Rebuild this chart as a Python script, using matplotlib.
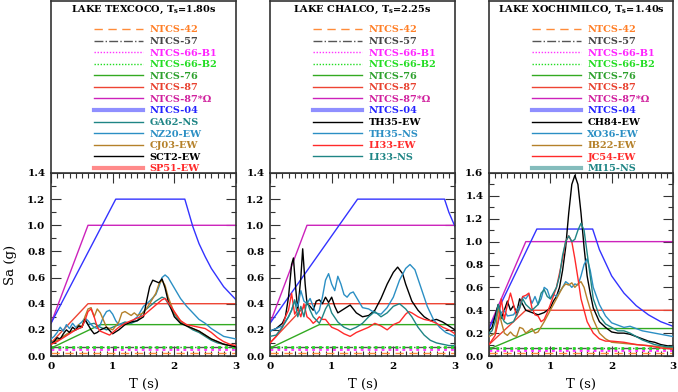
import matplotlib
matplotlib.use("Agg")
import matplotlib.pyplot as plt
from matplotlib.ticker import MultipleLocator

plt.rcParams['font.family'] = ['DejaVu Serif']
plt.rcParams['font.weight'] = 'bold'
plt.rcParams['mathtext.default'] = 'regular'

# ---------------- code spectra (common) ----------------
T_flat = [0, 3]
sa_42 = [0.025, 0.025]
sa_57 = [0.07, 0.07]
sa_66b1 = [0.055, 0.055]
sa_66b2 = [0.072, 0.072]
T_76 = [0, 0.8, 3]
sa_76 = [0.06, 0.24, 0.24]
T_87 = [0, 0.6, 3]
sa_87 = [0.10, 0.40, 0.40]
sa_87w = [0.25, 1.00, 1.00]

# NTCS-04 per site
T_04_tex = [0, 1.05, 2.17, 2.3, 2.4, 2.5, 2.6, 2.7, 2.8, 2.9, 3.0]
sa_04_tex = [0.25, 1.2, 1.2, 0.99, 0.86, 0.76, 0.67, 0.60, 0.53, 0.48, 0.43]
T_04_cha = [0, 1.42, 2.83, 2.9, 3.0]
sa_04_cha = [0.25, 1.2, 1.2, 1.10, 0.99]
T_04_xoc = [0, 0.78, 1.69, 1.8, 2.0, 2.2, 2.4, 2.6, 2.8, 3.0]
sa_04_xoc = [0.24, 1.11, 1.11, 0.93, 0.70, 0.55, 0.44, 0.36, 0.30, 0.26]

# ---------------- records: Lake Texcoco ----------------
T_ga62 = [0, 0.1, 0.2, 0.3, 0.4, 0.5, 0.55, 0.6, 0.7, 0.8, 0.9, 1.0, 1.1, 1.2, 1.3, 1.4, 1.5, 1.6, 1.7, 1.8,
          1.85, 1.9, 2.0, 2.1, 2.2, 2.3, 2.4, 2.5, 2.6, 2.7, 2.8, 2.9, 3.0]
sa_ga62 = [0.10, 0.12, 0.15, 0.18, 0.20, 0.22, 0.28, 0.24, 0.25, 0.22, 0.20, 0.22, 0.24, 0.26, 0.25, 0.27, 0.34,
           0.38, 0.42, 0.45, 0.44, 0.40, 0.32, 0.26, 0.23, 0.20, 0.18, 0.15, 0.12, 0.10, 0.09, 0.08, 0.07]
T_nz20 = [0, 0.05, 0.1, 0.15, 0.2, 0.25, 0.3, 0.35, 0.4, 0.45, 0.5, 0.55, 0.6, 0.65, 0.7, 0.75, 0.8, 0.85, 0.9,
          0.95, 1.0, 1.05, 1.1, 1.2, 1.3, 1.4, 1.5, 1.6, 1.7, 1.75, 1.8, 1.85, 1.9, 2.0, 2.1, 2.2, 2.3, 2.4, 2.5,
          2.6, 2.7, 2.8, 2.9, 3.0]
sa_nz20 = [0.13, 0.15, 0.18, 0.22, 0.19, 0.24, 0.21, 0.25, 0.22, 0.24, 0.26, 0.29, 0.27, 0.24, 0.22, 0.21, 0.24,
           0.30, 0.34, 0.35, 0.32, 0.27, 0.24, 0.25, 0.26, 0.30, 0.38, 0.42, 0.47, 0.53, 0.60, 0.62, 0.60, 0.52,
           0.44, 0.38, 0.33, 0.28, 0.25, 0.21, 0.18, 0.15, 0.14, 0.13]
T_cj03 = [0, 0.1, 0.2, 0.3, 0.4, 0.45, 0.5, 0.55, 0.6, 0.65, 0.7, 0.75, 0.8, 0.9, 1.0, 1.1, 1.15, 1.2, 1.3, 1.35,
          1.4, 1.5, 1.6, 1.7, 1.75, 1.8, 1.85, 1.9, 2.0, 2.1, 2.2, 2.3, 2.4, 2.5, 2.6, 2.7, 2.8, 2.9, 3.0]
sa_cj03 = [0.09, 0.12, 0.15, 0.18, 0.20, 0.24, 0.22, 0.30, 0.36, 0.37, 0.30, 0.36, 0.33, 0.22, 0.20, 0.26, 0.33,
           0.34, 0.31, 0.33, 0.31, 0.33, 0.40, 0.48, 0.55, 0.58, 0.54, 0.45, 0.33, 0.27, 0.23, 0.21, 0.19, 0.16,
           0.13, 0.11, 0.09, 0.08, 0.07]
T_sct2 = [0, 0.05, 0.1, 0.15, 0.2, 0.25, 0.3, 0.35, 0.4, 0.45, 0.5, 0.55, 0.6, 0.65, 0.7, 0.75, 0.8, 0.9, 1.0, 1.1,
          1.2, 1.3, 1.4, 1.5, 1.55, 1.6, 1.65, 1.7, 1.75, 1.8, 1.85, 1.9, 2.0, 2.1, 2.2, 2.3, 2.4, 2.5, 2.6, 2.7,
          2.8, 2.9, 3.0]
sa_sct2 = [0.09, 0.11, 0.14, 0.13, 0.17, 0.20, 0.18, 0.22, 0.20, 0.23, 0.22, 0.28, 0.24, 0.20, 0.17, 0.18, 0.20,
           0.22, 0.17, 0.20, 0.24, 0.26, 0.27, 0.30, 0.42, 0.53, 0.58, 0.57, 0.56, 0.59, 0.52, 0.42, 0.30, 0.25,
           0.23, 0.21, 0.19, 0.16, 0.13, 0.11, 0.09, 0.08, 0.07]
T_sp51 = [0, 0.1, 0.2, 0.3, 0.4, 0.5, 0.55, 0.6, 0.65, 0.7, 0.75, 0.8, 0.9, 0.95, 1.0, 1.1, 1.2, 1.3, 1.4, 1.5,
          1.6, 1.7, 1.8, 1.85, 1.9, 2.0, 2.1, 2.2, 2.3, 2.4, 2.5, 2.6, 2.7, 2.8, 2.9, 3.0]
sa_sp51 = [0.09, 0.11, 0.14, 0.17, 0.20, 0.22, 0.27, 0.34, 0.36, 0.30, 0.22, 0.19, 0.17, 0.16, 0.18, 0.22, 0.25,
           0.27, 0.29, 0.31, 0.35, 0.39, 0.43, 0.44, 0.41, 0.34, 0.27, 0.24, 0.23, 0.22, 0.21, 0.18, 0.14, 0.11,
           0.09, 0.08]

# ---------------- records: Lake Chalco ----------------
T_th35ew = [0, 0.1, 0.2, 0.25, 0.3, 0.35, 0.38, 0.42, 0.45, 0.5, 0.53, 0.57, 0.6, 0.65, 0.7, 0.75, 0.8, 0.85,
            0.9, 0.95, 1.0, 1.05, 1.1, 1.2, 1.3, 1.4, 1.5, 1.6, 1.7, 1.8, 1.9, 2.0, 2.07, 2.15, 2.2, 2.3, 2.4,
            2.5, 2.6, 2.7, 2.8, 2.9, 3.0]
sa_th35ew = [0.19, 0.21, 0.25, 0.30, 0.45, 0.70, 0.75, 0.50, 0.35, 0.60, 0.82, 0.55, 0.40, 0.38, 0.35, 0.42,
             0.43, 0.40, 0.45, 0.41, 0.45, 0.38, 0.33, 0.36, 0.39, 0.33, 0.30, 0.31, 0.35, 0.44, 0.55, 0.64,
             0.68, 0.63, 0.55, 0.42, 0.35, 0.30, 0.27, 0.28, 0.26, 0.23, 0.20]
T_th35ns = [0, 0.1, 0.2, 0.3, 0.35, 0.4, 0.45, 0.5, 0.55, 0.6, 0.65, 0.7, 0.75, 0.8, 0.85, 0.9, 0.95, 1.0, 1.05,
            1.1, 1.15, 1.2, 1.25, 1.3, 1.35, 1.4, 1.5, 1.6, 1.7, 1.8, 1.9, 2.0, 2.1, 2.2, 2.27, 2.35, 2.45,
            2.55, 2.65, 2.75, 2.85, 3.0]
sa_th35ns = [0.19, 0.21, 0.23, 0.30, 0.35, 0.42, 0.38, 0.50, 0.42, 0.40, 0.44, 0.38, 0.32, 0.35, 0.45, 0.58,
             0.63, 0.55, 0.50, 0.61, 0.55, 0.47, 0.45, 0.48, 0.49, 0.45, 0.37, 0.36, 0.33, 0.32, 0.37, 0.45,
             0.58, 0.67, 0.70, 0.66, 0.52, 0.38, 0.28, 0.22, 0.18, 0.15]
T_li33ew = [0, 0.1, 0.2, 0.25, 0.3, 0.35, 0.4, 0.45, 0.5, 0.55, 0.6, 0.65, 0.7, 0.75, 0.8, 0.85, 0.9, 1.0, 1.1,
            1.2, 1.3, 1.4, 1.5, 1.6, 1.7, 1.8, 1.9, 2.0, 2.1, 2.2, 2.25, 2.3, 2.4, 2.5, 2.6, 2.7, 2.8, 2.9, 3.0]
sa_li33ew = [0.10, 0.15, 0.22, 0.30, 0.35, 0.48, 0.32, 0.36, 0.30, 0.40, 0.30, 0.28, 0.25, 0.27, 0.30, 0.28,
             0.28, 0.22, 0.20, 0.17, 0.15, 0.18, 0.20, 0.22, 0.25, 0.23, 0.20, 0.24, 0.26, 0.32, 0.34, 0.33,
             0.30, 0.28, 0.27, 0.25, 0.22, 0.20, 0.17]
T_li33ns = [0, 0.1, 0.2, 0.3, 0.35, 0.4, 0.45, 0.5, 0.55, 0.6, 0.65, 0.7, 0.8, 0.85, 0.9, 0.95, 1.0, 1.1, 1.2,
            1.3, 1.4, 1.5, 1.6, 1.7, 1.8, 1.9, 2.0, 2.1, 2.2, 2.3, 2.4, 2.5, 2.6, 2.7, 2.8, 2.9, 3.0]
sa_li33ns = [0.15, 0.16, 0.22, 0.30, 0.35, 0.43, 0.30, 0.38, 0.30, 0.42, 0.35, 0.30, 0.25, 0.30, 0.36, 0.40,
             0.33, 0.26, 0.22, 0.20, 0.22, 0.25, 0.30, 0.34, 0.30, 0.33, 0.38, 0.40, 0.36, 0.30, 0.22, 0.16,
             0.12, 0.10, 0.09, 0.08, 0.08]

# ---------------- records: Lake Xochimilco ----------------
T_ch84 = [0, 0.05, 0.1, 0.15, 0.2, 0.25, 0.3, 0.35, 0.4, 0.45, 0.5, 0.55, 0.6, 0.7, 0.8, 0.9, 1.0, 1.05, 1.1,
          1.15, 1.2, 1.25, 1.3, 1.35, 1.4, 1.45, 1.5, 1.55, 1.6, 1.65, 1.7, 1.8, 1.9, 2.0, 2.1, 2.2, 2.3, 2.4,
          2.5, 2.6, 2.7, 2.8, 2.9, 3.0]
sa_ch84 = [0.22, 0.25, 0.35, 0.45, 0.33, 0.40, 0.48, 0.40, 0.44, 0.38, 0.50, 0.45, 0.40, 0.38, 0.36, 0.38, 0.42,
           0.48, 0.52, 0.60, 0.75, 0.95, 1.25, 1.50, 1.58, 1.50, 1.25, 0.95, 0.70, 0.55, 0.42, 0.30, 0.25, 0.21,
           0.20, 0.20, 0.19, 0.17, 0.15, 0.13, 0.12, 0.10, 0.09, 0.08]
T_xo36 = [0, 0.1, 0.15, 0.2, 0.25, 0.3, 0.4, 0.5, 0.55, 0.6, 0.65, 0.7, 0.75, 0.8, 0.85, 0.9, 0.95, 1.0, 1.05,
          1.1, 1.2, 1.25, 1.3, 1.35, 1.4, 1.45, 1.5, 1.55, 1.6, 1.65, 1.7, 1.8, 1.9, 2.0, 2.1, 2.2, 2.3, 2.4,
          2.5, 2.6, 2.7, 2.8, 2.9, 3.0]
sa_xo36 = [0.17, 0.20, 0.30, 0.38, 0.40, 0.35, 0.36, 0.44, 0.52, 0.50, 0.54, 0.46, 0.52, 0.45, 0.50, 0.60, 0.58,
           0.50, 0.54, 0.52, 0.60, 0.65, 0.63, 0.60, 0.63, 0.62, 0.70, 0.80, 0.85, 0.75, 0.60, 0.45, 0.35, 0.29,
           0.27, 0.25, 0.26, 0.24, 0.22, 0.21, 0.20, 0.19, 0.18, 0.17]
T_ib22 = [0, 0.1, 0.15, 0.2, 0.25, 0.3, 0.35, 0.4, 0.45, 0.5, 0.55, 0.6, 0.7, 0.75, 0.8, 0.9, 1.0, 1.1, 1.2,
          1.25, 1.3, 1.35, 1.4, 1.45, 1.5, 1.55, 1.6, 1.7, 1.8, 1.9, 2.0, 2.2, 2.4, 2.6, 2.8, 3.0]
sa_ib22 = [0.17, 0.20, 0.42, 0.30, 0.20, 0.18, 0.21, 0.18, 0.17, 0.25, 0.24, 0.20, 0.24, 0.20, 0.21, 0.30, 0.40,
           0.50, 0.60, 0.63, 0.62, 0.64, 0.60, 0.63, 0.65, 0.60, 0.50, 0.32, 0.20, 0.15, 0.12, 0.11, 0.10, 0.09,
           0.08, 0.07]
T_jc54 = [0, 0.1, 0.15, 0.2, 0.25, 0.3, 0.35, 0.4, 0.45, 0.5, 0.55, 0.6, 0.65, 0.7, 0.75, 0.8, 0.85, 0.9, 0.95,
          1.0, 1.1, 1.2, 1.25, 1.3, 1.35, 1.4, 1.45, 1.5, 1.55, 1.6, 1.7, 1.8, 1.9, 2.0, 2.2, 2.4, 2.6, 2.8, 3.0]
sa_jc54 = [0.10, 0.18, 0.30, 0.50, 0.32, 0.45, 0.55, 0.45, 0.35, 0.42, 0.52, 0.53, 0.55, 0.42, 0.36, 0.35, 0.30,
           0.32, 0.38, 0.45, 0.60, 0.85, 1.00, 1.05, 1.00, 0.85, 0.68, 0.50, 0.40, 0.30, 0.20, 0.15, 0.13, 0.13,
           0.12, 0.10, 0.09, 0.07, 0.06]
T_mi15 = [0, 0.05, 0.1, 0.15, 0.2, 0.25, 0.3, 0.4, 0.5, 0.55, 0.6, 0.7, 0.8, 0.85, 0.9, 0.95, 1.0, 1.05, 1.1,
          1.15, 1.2, 1.25, 1.3, 1.35, 1.4, 1.45, 1.5, 1.55, 1.6, 1.65, 1.7, 1.8, 1.9, 2.0, 2.1, 2.2, 2.3, 2.4,
          2.5, 2.6, 2.7, 2.8, 2.9, 3.0]
sa_mi15 = [0.20, 0.22, 0.30, 0.45, 0.35, 0.30, 0.28, 0.30, 0.42, 0.50, 0.45, 0.40, 0.45, 0.55, 0.58, 0.52, 0.50,
           0.55, 0.60, 0.70, 0.88, 1.00, 1.05, 1.00, 1.02, 1.10, 1.16, 1.10, 0.90, 0.70, 0.50, 0.35, 0.28, 0.25,
           0.22, 0.22, 0.20, 0.17, 0.14, 0.12, 0.10, 0.09, 0.08, 0.08]

titles = ["LAKE TEXCOCO, T$_s$=1.80s", "LAKE CHALCO, T$_s$=2.25s", "LAKE XOCHIMILCO, T$_s$=1.40s"]
ymax = [1.4, 1.4, 1.6]

C_TEAL = '#1f8585'
C_SKY = '#2b8fc4'
C_BROWN = '#b5812a'
C_RED = '#ff2a2a'

panels = [
    dict(T04=T_04_tex, sa04=sa_04_tex, recs=[
        ("GA62-NS", T_ga62, sa_ga62, C_TEAL),
        ("NZ20-EW", T_nz20, sa_nz20, C_SKY),
        ("CJ03-EW", T_cj03, sa_cj03, C_BROWN),
        ("SCT2-EW", T_sct2, sa_sct2, 'black'),
        ("SP51-EW", T_sp51, sa_sp51, C_RED)],
        thick=["NTCS-04", "SP51-EW"]),
    dict(T04=T_04_cha, sa04=sa_04_cha, recs=[
        ("TH35-EW", T_th35ew, sa_th35ew, 'black'),
        ("TH35-NS", T_th35ns, sa_th35ns, C_SKY),
        ("LI33-EW", T_li33ew, sa_li33ew, C_RED),
        ("LI33-NS", T_li33ns, sa_li33ns, C_TEAL)],
        thick=["NTCS-04"]),
    dict(T04=T_04_xoc, sa04=sa_04_xoc, recs=[
        ("CH84-EW", T_ch84, sa_ch84, 'black'),
        ("XO36-EW", T_xo36, sa_xo36, C_SKY),
        ("IB22-EW", T_ib22, sa_ib22, C_BROWN),
        ("JC54-EW", T_jc54, sa_jc54, C_RED),
        ("MI15-NS", T_mi15, sa_mi15, C_TEAL)],
        thick=["NTCS-04", "MI15-NS"]),
]

W, H = 678, 392
fig = plt.figure(figsize=(W / 100, H / 100), dpi=100)
lefts = [51, 270, 489]
widths = [185, 185, 184]
bot_y0, bot_y1 = 173, 356
top_y0 = 1

text_colors = {
    "NTCS-42": '#ff7f27', "NTCS-57": '#444444', "NTCS-66-B1": '#ff22ff', "NTCS-66-B2": '#22dd22',
    "NTCS-76": '#2ca02c', "NTCS-87": '#e8402e', "NTCS-87*Ω": '#d0209d', "NTCS-04": '#2222ff',
}
thin_dotted = ["NTCS-66-B1", "NTCS-66-B2"]

for i, p in enumerate(panels):
    L = lefts[i] / W
    Wd = widths[i] / W
    ax = fig.add_axes([L, (H - bot_y1) / H, Wd, (bot_y1 - bot_y0) / H])
    axl = fig.add_axes([L, (H - bot_y0) / H, Wd, (bot_y0 - top_y0) / H])

    ax.plot(T_flat, sa_42, color='#ff8c3a', lw=1.0, ls=(0, (6, 4)), label="NTCS-42", zorder=2)
    ax.plot(T_flat, sa_57, color='#555555', lw=1.0, ls='-.', label="NTCS-57", zorder=2)
    ax.plot(T_flat, sa_66b1, color='#ff33ff', lw=2.0, ls=(0, (1, 1.5)), label="NTCS-66-B1", zorder=2)
    ax.plot(T_flat, sa_66b2, color='#22dd22', lw=2.0, ls=(0, (1, 1.5)), label="NTCS-66-B2", zorder=2)
    ax.plot(T_76, sa_76, color='#33aa22', lw=1.0, label="NTCS-76", zorder=2)
    ax.plot(T_87, sa_87, color='#ee4433', lw=1.0, label="NTCS-87", zorder=2)
    ax.plot(T_87, sa_87w, color='#cc22bb', lw=1.0, label="NTCS-87*Ω", zorder=2)
    ax.plot(p['T04'], p['sa04'], color='#3333ff', lw=1.0, label="NTCS-04", zorder=2)
    for name, Tx, sx, c in p['recs']:
        text_colors[name] = c
        ax.plot(Tx, sx, color=c, lw=1.0, label=name, zorder=3)

    ax.set_xlim(0, 3)
    ax.set_ylim(0, ymax[i])
    ax.xaxis.set_major_locator(MultipleLocator(1))
    ax.xaxis.set_minor_locator(MultipleLocator(0.1))
    ax.yaxis.set_major_locator(MultipleLocator(0.2))
    ax.yaxis.set_minor_locator(MultipleLocator(0.1))
    ax.yaxis.set_major_formatter(matplotlib.ticker.FormatStrFormatter('%.1f'))
    ax.tick_params(which='both', direction='in', top=True, right=True, labelsize=7.5, width=0.8,
                   color='#333333')
    ax.tick_params(which='major', length=7, pad=4)
    ax.tick_params(which='minor', length=3.5)
    for s in ax.spines.values():
        s.set_linewidth(1.2)
        s.set_color('#333333')
    ax.set_xlabel("T (s)", fontsize=9.5, labelpad=5)
    if i == 0:
        ax.set_ylabel("Sa (g)", fontsize=9.5, labelpad=7)

    # legend / title panel
    axl.set_xticks([])
    axl.set_yticks([])
    for s in axl.spines.values():
        s.set_linewidth(1.2)
        s.set_color('#333333')
    axl.text(0.5, 0.985, titles[i], transform=axl.transAxes, ha='center', va='top', fontsize=7)
    handles, labels = ax.get_legend_handles_labels()
    leg = axl.legend(handles, labels, loc='upper left', bbox_to_anchor=(43 / widths[i], 0.858),
                     frameon=False, fontsize=7, handlelength=5.0, handletextpad=0.7,
                     labelspacing=0.265, borderpad=0, borderaxespad=0,
                     labelcolor=[text_colors[l] for l in labels])
    for line, lab in zip(leg.get_lines(), labels):
        if lab in p['thick']:
            line.set_linewidth(3.0)
            line.set_alpha(0.55)
        if lab in thin_dotted:
            line.set_linewidth(1.0)
            line.set_linestyle((0, (1, 1.2)))

fig.savefig("out.png", dpi=100)
